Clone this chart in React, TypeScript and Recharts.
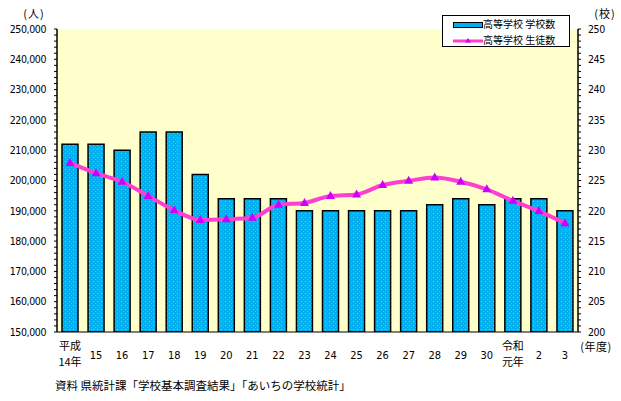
import React from 'react';
import { ComposedChart, Bar, Line, XAxis, YAxis, CartesianGrid, Legend } from 'recharts';

const years = ['平成\n14年', '15', '16', '17', '18', '19', '20', '21', '22', '23', '24', '25', '26', '27', '28', '29', '30', '令和\n元年', '2', '3'];
const schoolCounts = [231, 231, 230, 233, 233, 226, 222, 222, 222, 220, 220, 220, 220, 220, 221, 222, 221, 222, 222, 220];
const studentCounts = [205800, 202400, 199600, 194900, 190200, 187000, 187200, 187700, 192000, 192600, 194900, 195400, 198500, 199900, 201000, 199600, 197100, 193300, 189900, 185900];
const studentAxisLabels = [150000, 160000, 170000, 180000, 190000, 200000, 210000, 220000, 230000, 240000, 250000];
const schoolAxisLabels = [200, 205, 210, 215, 220, 225, 230, 235, 240, 245, 250];
const seriesNames = ['高等学校 学校数', '高等学校 生徒数'];

const data = years.map((y, i) => ({ year: y, schools: schoolCounts[i], students: studentCounts[i] }));

const studentTicks: number[] = [];
for (let v = studentAxisLabels[0]; v <= studentAxisLabels[studentAxisLabels.length - 1]; v += 2000) studentTicks.push(v);
const schoolTicks: number[] = [];
for (let v = schoolAxisLabels[0]; v <= schoolAxisLabels[schoolAxisLabels.length - 1]; v += 1) schoolTicks.push(v);

const NARROW = '"Liberation Sans Narrow", "Arial Narrow", "DejaVu Sans Condensed", "Liberation Sans", sans-serif';
const CJK = '"Noto Sans CJK JP", "Noto Sans", sans-serif';

const BAR_BLUE = '#00B0F0';
const LINE_PINK = '#FF3FD2';
const MARK_PURPLE = '#CC00FF';

const XTick = (props: any) => {
  const { x, y, payload } = props;
  const lines = String(payload.value).split('\n');
  const two = lines.length > 1;
  return (
    <g>
      {lines.map((l, i) => (
        <text
          key={i}
          x={x}
          y={two ? y + 18 + i * 16 : y + 27}
          textAnchor="middle"
          fontSize={11}
          fontFamily={/^[0-9]+$/.test(l) ? NARROW : CJK}
          fill="#000"
        >
          {l}
        </text>
      ))}
    </g>
  );
};

const TriangleDot = (props: any) => {
  const { cx, cy } = props;
  if (cx == null || cy == null) return null;
  return <path d={`M${cx},${cy - 5} L${cx + 4.5},${cy + 3} L${cx - 4.5},${cy + 3} Z`} fill={MARK_PURPLE} />;
};

const renderLegend = () => (
  <div
    style={{
      position: 'relative',
      width: 128,
      height: 32,
      boxSizing: 'border-box',
      border: '1px solid #000',
      background: '#fff',
      fontFamily: CJK,
      fontSize: 10,
      color: '#000',
    }}
  >
    <div style={{ position: 'absolute', left: 10, top: 6, width: 28, height: 4, background: BAR_BLUE, border: '1px solid #000' }} />
    <div style={{ position: 'absolute', left: 40, top: 0, lineHeight: '16px', whiteSpace: 'nowrap' }}>{seriesNames[0]}</div>
    <svg style={{ position: 'absolute', left: 10, top: 20 }} width={30} height={10}>
      <line x1={0} y1={5} x2={30} y2={5} stroke={LINE_PINK} strokeWidth={3} />
      <path d="M15,2 L18,6.5 L12,6.5 Z" fill={MARK_PURPLE} />
    </svg>
    <div style={{ position: 'absolute', left: 40, top: 16, lineHeight: '16px', whiteSpace: 'nowrap' }}>{seriesNames[1]}</div>
  </div>
);

export default function App() {
  return (
    <div style={{ position: 'absolute', left: 0, top: 0, width: 621, height: 401, background: '#fff' }}>
      <ComposedChart width={621} height={401} data={data} margin={{ top: 29, right: 7, bottom: 29, left: 7 }} barCategoryGap={9}>
        <defs>
          <pattern id="barDots" width="4" height="4" patternUnits="userSpaceOnUse">
            <rect width="4" height="4" fill={BAR_BLUE} />
            <rect x="1" y="1" width="1" height="1" fill="#4FD8F0" />
            <rect x="3" y="3" width="1" height="1" fill="#22C4F4" />
          </pattern>
        </defs>
        <CartesianGrid fill="#FFFFCC" stroke="none" horizontal={false} vertical={false} />
        <XAxis
          dataKey="year"
          xAxisId="x"
          height={40}
          interval={0}
          tickLine={false}
          tickSize={0}
          tickMargin={0}
          axisLine={{ stroke: '#000', strokeWidth: 1 }}
          tick={<XTick />}
        />
        <YAxis
          yAxisId="students"
          orientation="left"
          width={50}
          domain={[150000, 250000]}
          ticks={studentTicks}
          interval={0}
          allowDataOverflow
          tickSize={3}
          tickMargin={8}
          axisLine={{ stroke: '#000', strokeWidth: 1.5 }}
          tickLine={{ stroke: '#000' }}
          tick={{ fill: '#000', fontSize: 10.5, fontFamily: NARROW, letterSpacing: -0.4 }}
          tickFormatter={(v: number) => (v % 10000 === 0 ? v.toLocaleString('en-US') : '')}
        />
        <YAxis
          yAxisId="schools"
          orientation="right"
          width={36}
          domain={[200, 250]}
          ticks={schoolTicks}
          interval={0}
          allowDataOverflow
          tickSize={3}
          tickMargin={7}
          axisLine={{ stroke: '#000', strokeWidth: 1.5 }}
          tickLine={{ stroke: '#000' }}
          tick={{ fill: '#000', fontSize: 10.5, fontFamily: NARROW, textAnchor: 'start', letterSpacing: -0.4 }}
          tickFormatter={(v: number) => (v % 5 === 0 ? String(v) : '')}
        />
        <Bar
          dataKey="schools"
          name={seriesNames[0]}
          xAxisId="x"
          yAxisId="schools"
          barSize={16}
          fill="url(#barDots)"
          stroke="#000"
          strokeWidth={1.5}
          isAnimationActive={false}
        />
        <Line
          dataKey="students"
          name={seriesNames[1]}
          xAxisId="x"
          yAxisId="students"
          type="monotone"
          stroke={LINE_PINK}
          strokeWidth={4}
          dot={<TriangleDot />}
          activeDot={false}
          isAnimationActive={false}
        />
        <Legend
          layout="vertical"
          align="center"
          verticalAlign="middle"
          content={renderLegend}
          wrapperStyle={{ top: 15, left: 442, width: 128, height: 32 }}
        />
        <text x={34} y={18} textAnchor="middle" fontSize={11} fontFamily={CJK} fill="#000" letterSpacing={1}>(人)</text>
        <text x={605} y={18} textAnchor="middle" fontSize={11} fontFamily={CJK} fill="#000" letterSpacing={1}>(校)</text>
        <text x={596} y={351} textAnchor="middle" fontSize={11} fontFamily={CJK} fill="#000" letterSpacing={0.5}>(年度)</text>
        <text x={55} y={390} fontSize={11.5} fontFamily={CJK} fill="#000">資料 県統計課「学校基本調査結果」「あいちの学校統計」</text>
      </ComposedChart>
    </div>
  );
}
